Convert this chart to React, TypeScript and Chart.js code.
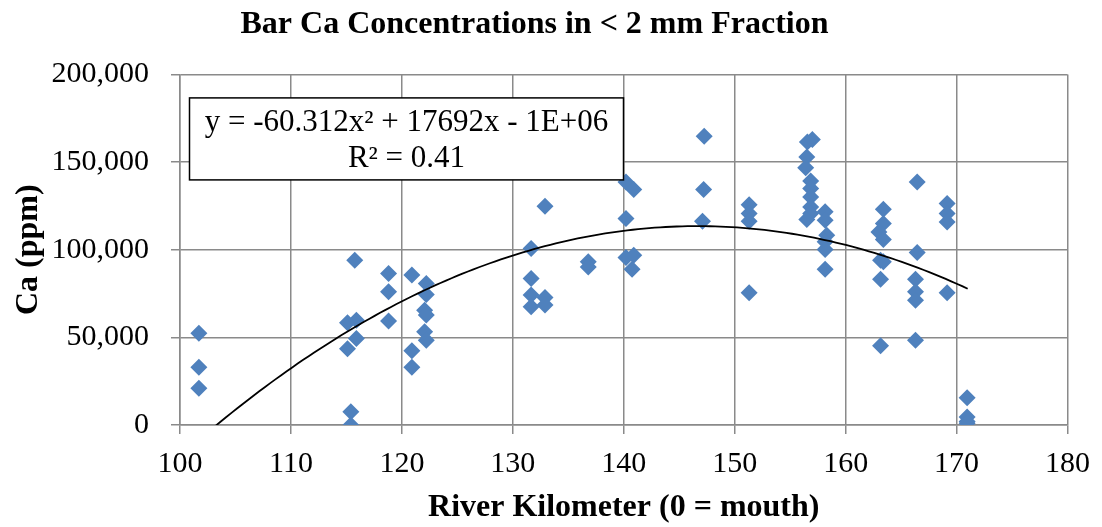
import { useEffect, useRef } from "react";
import { Chart, registerables } from "chart.js";

Chart.register(...registerables);

const riverKm = [
  101.7, 101.7, 101.7,
  115.1, 115.1, 115.4, 115.4, 115.75, 115.9, 115.9,
  118.8, 118.8, 118.8,
  120.9, 120.9, 120.9,
  122.2, 122.2, 122.05, 122.2, 122.05, 122.2,
  131.65, 131.65, 131.65, 131.65,
  132.9, 132.9, 132.9,
  136.8, 136.8,
  140.2, 140.2, 140.2, 140.9, 140.9, 140.75,
  147.25, 147.2, 147.1,
  151.3, 151.3, 151.3, 151.3,
  156.55, 157.0, 156.5, 156.4, 156.85, 156.85, 156.85, 156.85, 156.85, 156.5,
  158.15, 158.15, 158.3, 158.15, 158.15, 158.15,
  163.4, 163.4, 163.0, 163.4, 163.15, 163.4, 163.15, 163.15,
  166.45, 166.45, 166.3, 166.3, 166.3, 166.3,
  169.15, 169.15, 169.15, 169.15,
  170.95, 170.95, 170.95, 170.95,
];

const caPpm = [
  52300, 32900, 20900,
  58300, 43500, 7600, 0, 94000, 59800, 49400,
  86400, 76000, 59300,
  85500, 42300, 32900,
  80700, 74500, 65500, 62700, 53200, 48400,
  100700, 83600, 74100, 67400,
  124800, 72800, 68400,
  93100, 90200,
  138600, 117800, 95500, 134300, 96900, 88900,
  164700, 134300, 116200,
  125700, 120600, 116200, 75400,
  161400, 162800, 152900, 146800, 139200, 134900, 130100, 124400, 120600, 117200,
  121600, 116800, 108300, 104500, 100100, 88900,
  123100, 114900, 110100, 105800, 94000, 93100, 83200, 45200,
  138600, 98400, 83200, 76000, 71200, 48400,
  126300, 120600, 115800, 75400,
  15600, 4500, 2000, 1000,
];

// Polynomial trendline (order 2) coefficients, as fitted to the data
const trendA = -60.312;
const trendB = 17692;
const trendC = -1184000;
const trendXStart = 101.7;
const trendXEnd = 171;

const chartTitle = "Bar Ca Concentrations in < 2 mm Fraction";
const xTitle = "River Kilometer (0 = mouth)";
const yTitle = "Ca (ppm)";
const equationLine1 = "y = -60.312x\u00B2 + 17692x - 1E+06";
const equationLine2 = "R\u00B2 = 0.41";

const SERIF = '"Liberation Serif", "Times New Roman", Times, serif';

export default function App() {
  const ref = useRef<HTMLCanvasElement | null>(null);

  useEffect(() => {
    if (!ref.current) return;
    const points = riverKm.map((x, i) => ({ x, y: caPpm[i] }));
    const trend: { x: number; y: number }[] = [];
    const steps = 140;
    for (let i = 0; i <= steps; i++) {
      const x = trendXStart + ((trendXEnd - trendXStart) * i) / steps;
      trend.push({ x, y: trendA * x * x + trendB * x + trendC });
    }

    const eqBox = {
      id: "eqBox",
      afterDatasetsDraw(chart: any) {
        const { ctx, chartArea } = chart;
        const left = chartArea.left + 9.5;
        const top = chartArea.top + 23.5;
        const w = 434;
        const h = 82;
        ctx.save();
        ctx.fillStyle = "#ffffff";
        ctx.fillRect(left, top, w, h);
        ctx.strokeStyle = "#000000";
        ctx.lineWidth = 1.5;
        ctx.strokeRect(left, top, w, h);
        ctx.fillStyle = "#000000";
        ctx.font = `31px ${SERIF}`;
        ctx.textAlign = "center";
        ctx.textBaseline = "middle";
        ctx.fillText(equationLine1, left + w / 2, top + 25);
        ctx.fillText(equationLine2, left + w / 2, top + 61);
        ctx.restore();
      },
    };

    const chart = new Chart(ref.current, {
      type: "scatter",
      data: {
        datasets: [
          {
            type: "line",
            data: trend,
            borderColor: "#000000",
            borderWidth: 1.8,
            pointRadius: 0,
            fill: false,
            tension: 0,
            order: 0,
          } as any,
          {
            type: "scatter",
            data: points,
            pointStyle: "rectRot",
            pointRadius: 8.5,
            backgroundColor: "#4F81BD",
            borderColor: "#4F81BD",
            borderWidth: 0,
            order: 1,
          },
        ],
      },
      options: {
        animation: false,
        responsive: true,
        maintainAspectRatio: false,
        layout: { padding: { left: 0, right: 33, top: 0, bottom: 0 } },
        plugins: {
          legend: { display: false },
          tooltip: { enabled: false },
          title: {
            display: true,
            text: chartTitle,
            color: "#000000",
            font: { family: SERIF, size: 32, weight: "bold" },
            padding: { top: 6, bottom: 30 },
          },
        },
        scales: {
          x: {
            type: "linear",
            min: 100,
            max: 180,
            ticks: {
              stepSize: 10,
              color: "#000000",
              font: { family: SERIF, size: 30 },
              padding: 12,
              maxRotation: 0,
            },
            grid: {
              color: "#8a8a8a",
              lineWidth: 1.5,
              tickLength: 9,
            },
            border: { color: "#8a8a8a", width: 1.5 },
            title: {
              display: true,
              text: xTitle,
              color: "#000000",
              font: { family: SERIF, size: 32, weight: "bold" },
              padding: { top: 0, bottom: 0 },
            },
            afterFit(scale: any) {
              scale.height = 102;
            },
          },
          y: {
            type: "linear",
            min: 0,
            max: 200000,
            ticks: {
              stepSize: 50000,
              color: "#000000",
              font: { family: SERIF, size: 30 },
              padding: 22,
              callback: (v: any) => Number(v).toLocaleString("en-US"),
            },
            grid: {
              color: "#8a8a8a",
              lineWidth: 1.5,
              tickLength: 9,
            },
            border: { color: "#8a8a8a", width: 1.5 },
            title: {
              display: true,
              text: yTitle,
              color: "#000000",
              font: { family: SERIF, size: 32, weight: "bold" },
              padding: { top: 10, bottom: 0 },
            },
            afterFit(scale: any) {
              scale.width = 180;
            },
          },
        },
      },
      plugins: [eqBox],
    });
    return () => chart.destroy();
  }, []);

  return (
    <div
      style={{
        position: "absolute",
        left: 0,
        top: 0,
        width: 1102,
        height: 527,
        background: "#ffffff",
      }}
    >
      <canvas ref={ref} />
    </div>
  );
}
